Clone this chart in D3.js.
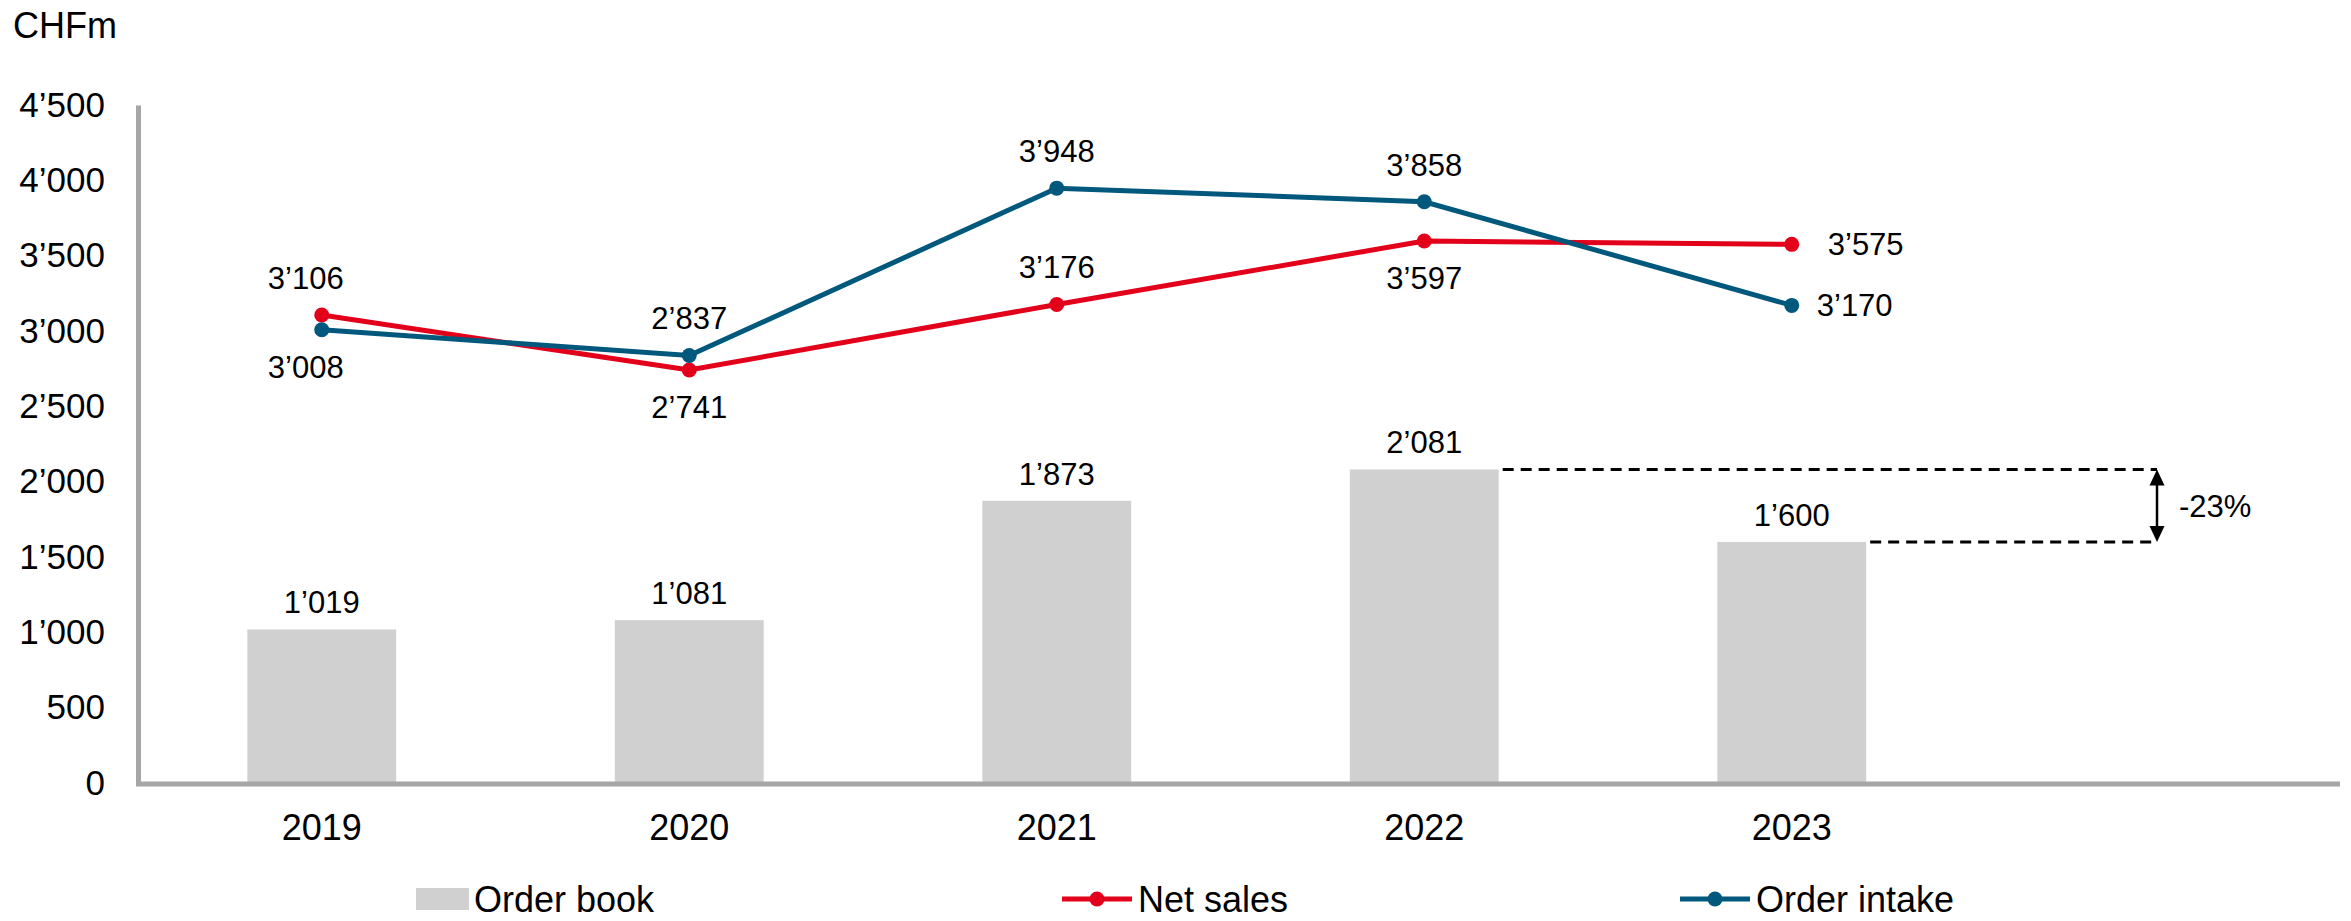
<!DOCTYPE html>
<html>
<head>
<meta charset="utf-8">
<script src="https://cdn.jsdelivr.net/npm/d3@7"></script>
<style>
  body { margin: 0; background: #fff; }
  text { font-family: "Liberation Sans", Arial, sans-serif; fill: #000; }
</style>
</head>
<body>
<div id="chart"></div>
<script>
// data
var years = ["2019", "2020", "2021", "2022", "2023"];
var orderBook = [1019, 1081, 1873, 2081, 1600];
var netSales = [3106, 2741, 3176, 3597, 3575];
var orderIntake = [3008, 2837, 3948, 3858, 3170];
var yTicks = [0, 500, 1000, 1500, 2000, 2500, 3000, 3500, 4000, 4500];
// where each line label sits relative to its point
var netSalesPos = ["nw", "s", "n", "s", "e"];
var orderIntakePos = ["sw", "n", "n", "n", "e"];

var W = 2351, H = 921;
var red = "#e2001a", blue = "#00587c", grey = "#a6a6a6";

var svg = d3.select("#chart")
    .append("svg")
    .attr("width", W)
    .attr("height", H);

var fmt = d3.formatLocale({ decimal: ".", thousands: "\u2019", grouping: [3], currency: ["", ""] }).format(",");

// scales
var x = d3.scaleBand()
    .domain(years)
    .range([138, 1975.5])
    .paddingInner(0.595)
    .paddingOuter(0.2975);

var y = d3.scaleLinear()
    .domain([0, 4500])
    .range([783, 105]);

var cx = d => x(d) + x.bandwidth() / 2;

// unit label
svg.append("text")
    .attr("x", 13)
    .attr("y", 38)
    .style("font-size", "36px")
    .text("CHFm");

// Y axis
var yAxis = svg.append("g")
    .attr("transform", "translate(138,0)")
    .call(d3.axisLeft(y).tickValues(yTicks).tickFormat(fmt).tickSize(0).tickSizeOuter(0).tickPadding(33));
yAxis.select(".domain").attr("stroke", grey).attr("stroke-width", 5);
yAxis.selectAll("text")
    .style("font-family", "Liberation Sans, Arial, sans-serif")
    .style("font-size", "35px")
    .attr("fill", "#000");

// bars
svg.selectAll("rect.bar")
    .data(orderBook)
    .enter()
    .append("rect")
    .attr("class", "bar")
    .attr("x", (d, i) => x(years[i]))
    .attr("y", d => y(d))
    .attr("width", x.bandwidth())
    .attr("height", d => y(0) - y(d))
    .attr("fill", "#d0d0d0");

svg.selectAll("text.barlabel")
    .data(orderBook)
    .enter()
    .append("text")
    .attr("class", "barlabel")
    .attr("x", (d, i) => cx(years[i]))
    .attr("y", d => y(d) - 27)
    .attr("dy", "0.35em")
    .attr("text-anchor", "middle")
    .style("font-size", "31px")
    .text(d => fmt(d));

// X axis
var xAxis = svg.append("g")
    .attr("transform", "translate(0," + y(0) + ")")
    .call(d3.axisBottom(x).tickSize(0).tickSizeOuter(0));
xAxis.select(".domain").remove();
xAxis.selectAll("text")
    .attr("y", 44)
    .attr("dy", "0.35em")
    .style("font-family", "Liberation Sans, Arial, sans-serif")
    .style("font-size", "36px")
    .attr("fill", "#000");
svg.append("line")
    .attr("x1", 136)
    .attr("x2", 2340)
    .attr("y1", y(0) + 1)
    .attr("y2", y(0) + 1)
    .attr("stroke", grey)
    .attr("stroke-width", 5);

// lines
var line = d3.line()
    .x((d, i) => cx(years[i]))
    .y(d => y(d));

function drawSeries(values, pos, color, cls) {
    svg.append("path")
        .datum(values)
        .attr("d", line)
        .attr("fill", "none")
        .attr("stroke", color)
        .attr("stroke-width", 5);

    svg.selectAll("circle." + cls)
        .data(values)
        .enter()
        .append("circle")
        .attr("class", cls)
        .attr("cx", (d, i) => cx(years[i]))
        .attr("cy", d => y(d))
        .attr("r", 7.5)
        .attr("fill", color);

    svg.selectAll("text." + cls)
        .data(values)
        .enter()
        .append("text")
        .attr("class", cls)
        .attr("x", (d, i) => {
            var p = pos[i];
            if (p == "e") return cx(years[i]) + 30;
            if (p == "nw" || p == "sw") return cx(years[i]) - 16;
            return cx(years[i]);
        })
        .attr("y", (d, i) => {
            var p = pos[i];
            if (p == "e") return y(d);
            if (p == "n" || p == "nw") return y(d) - 37;
            return y(d) + 37;
        })
        .attr("dy", "0.35em")
        .attr("text-anchor", (d, i) => pos[i] == "e" ? "start" : "middle")
        .style("font-size", "31px")
        .text(d => fmt(d));
}

drawSeries(netSales, netSalesPos, red, "ns");
drawSeries(orderIntake, orderIntakePos, blue, "oi");
// nudge the 2023 labels, as in the source
svg.selectAll("text.ns").filter((d, i) => i == 4).attr("x", cx("2023") + 36);
svg.selectAll("text.oi").filter((d, i) => i == 4).attr("x", cx("2023") + 25);

// -23% annotation
var ax = 2157;
var yTop = y(orderBook[3]), yBot = y(orderBook[4]);
svg.append("line")
    .attr("x1", x("2022") + x.bandwidth() + 4).attr("x2", ax)
    .attr("y1", yTop).attr("y2", yTop)
    .attr("stroke", "#000").attr("stroke-width", 3)
    .attr("stroke-dasharray", "11,7");
svg.append("line")
    .attr("x1", x("2023") + x.bandwidth() + 4).attr("x2", ax)
    .attr("y1", yBot).attr("y2", yBot)
    .attr("stroke", "#000").attr("stroke-width", 3)
    .attr("stroke-dasharray", "11,7");
svg.append("line")
    .attr("x1", ax).attr("x2", ax)
    .attr("y1", yTop + 10).attr("y2", yBot - 10)
    .attr("stroke", "#000").attr("stroke-width", 2.5);
svg.append("path")
    .attr("d", "M" + ax + "," + yTop + "l-7.5,16h15z")
    .attr("fill", "#000");
svg.append("path")
    .attr("d", "M" + ax + "," + yBot + "l-7.5,-16h15z")
    .attr("fill", "#000");
svg.append("text")
    .attr("x", ax + 22)
    .attr("y", (yTop + yBot) / 2)
    .attr("dy", "0.35em")
    .style("font-size", "31px")
    .text("-23%");

// legend
var ly = 899;
var legend = svg.append("g");
legend.append("rect")
    .attr("x", 416).attr("y", ly - 11)
    .attr("width", 53).attr("height", 22)
    .attr("fill", "#d0d0d0");
legend.append("text")
    .attr("x", 474).attr("y", ly).attr("dy", "0.35em")
    .style("font-size", "36px")
    .text("Order book");

[[1062, red, "Net sales"], [1680, blue, "Order intake"]].forEach(function(l) {
    legend.append("line")
        .attr("x1", l[0]).attr("x2", l[0] + 70)
        .attr("y1", ly).attr("y2", ly)
        .attr("stroke", l[1]).attr("stroke-width", 5);
    legend.append("circle")
        .attr("cx", l[0] + 35).attr("cy", ly).attr("r", 7.5)
        .attr("fill", l[1]);
    legend.append("text")
        .attr("x", l[0] + 76).attr("y", ly).attr("dy", "0.35em")
        .style("font-size", "36px")
        .text(l[2]);
});
</script>
</body>
</html>
